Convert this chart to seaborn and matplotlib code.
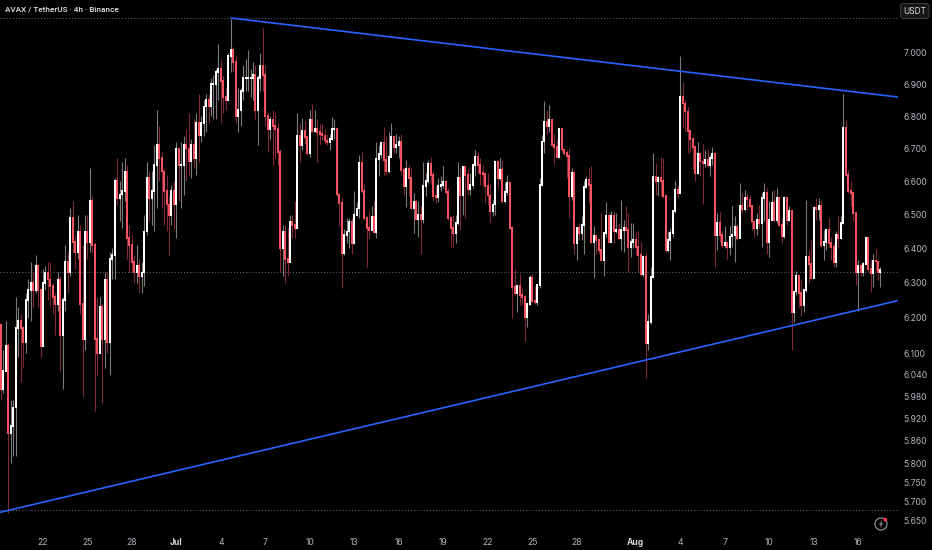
import numpy as np
import pandas as pd
import matplotlib
matplotlib.use("Agg")
import matplotlib.pyplot as plt
from matplotlib.patches import Circle, FancyBboxPatch, Polygon
from matplotlib.ticker import NullLocator
import seaborn as sns

first_open = 6.18
closes = [
6.00,6.05,6.12,5.88,5.90,5.95,6.17,6.19,6.17,6.13,
6.25,6.28,6.30,6.28,6.35,6.28,6.12,6.30,6.33,6.31,
6.29,6.26,6.24,6.31,6.15,6.25,6.36,6.33,6.49,6.42,
6.39,6.45,6.24,6.14,6.45,6.42,6.54,6.41,6.14,6.10,
6.23,6.14,6.31,6.13,6.37,6.38,6.60,6.55,6.56,6.57,
6.63,6.43,6.41,6.36,6.33,6.35,6.32,6.33,6.45,6.61,
6.55,6.57,6.65,6.71,6.67,6.63,6.57,6.53,6.50,6.57,
6.53,6.70,6.65,6.65,6.71,6.70,6.66,6.71,6.67,6.78,
6.74,6.78,6.83,6.85,6.83,6.90,6.90,6.94,6.95,6.91,
6.86,6.85,6.99,7.01,6.97,6.80,6.82,6.88,6.92,6.92,
6.92,6.92,6.93,6.82,6.92,6.96,6.93,6.80,6.76,6.79,
6.77,6.76,6.69,6.40,6.45,6.37,6.36,6.48,6.47,6.46,
6.74,6.71,6.755,6.735,6.685,6.79,6.755,6.76,6.75,6.745,
6.74,6.725,6.72,6.73,6.76,6.76,6.56,6.535,6.385,6.44,
6.45,6.48,6.415,6.50,6.518,6.657,6.57,6.49,6.46,6.455,
6.492,6.447,6.667,6.683,6.717,6.665,6.63,6.675,6.735,6.705,
6.71,6.72,6.635,6.587,6.637,6.61,6.52,6.537,6.487,6.50,
6.487,6.585,6.60,6.653,6.62,6.555,6.553,6.585,6.59,6.597,
6.567,6.49,6.46,6.445,6.475,6.61,6.557,6.643,6.62,6.575,
6.59,6.65,6.675,6.65,6.625,6.622,6.585,6.557,6.51,6.53,
6.66,6.61,6.635,6.54,6.567,6.595,6.46,6.287,6.27,6.29,
6.265,6.26,6.203,6.24,6.315,6.247,6.245,6.293,6.59,6.722,
6.783,6.77,6.79,6.71,6.705,6.675,6.76,6.697,6.687,6.677,
6.555,6.625,6.415,6.46,6.445,6.47,6.583,6.603,6.59,6.42,
6.437,6.425,6.395,6.367,6.445,6.497,6.42,6.495,6.45,6.455,
6.43,6.455,6.46,6.455,6.405,6.42,6.425,6.405,6.38,6.325,
6.375,6.128,6.188,6.317,6.613,6.60,6.61,6.60,6.555,6.395,
6.425,6.445,6.51,6.575,6.565,6.86,6.84,6.815,6.755,6.73,
6.705,6.625,6.683,6.66,6.655,6.665,6.65,6.67,6.685,6.44,
6.475,6.44,6.41,6.415,6.405,6.435,6.44,6.465,6.43,6.525,
6.515,6.55,6.545,6.525,6.48,6.46,6.485,6.475,6.55,6.565,
6.42,6.485,6.535,6.485,6.55,6.47,6.435,6.55,6.485,6.51,
6.216,6.275,6.32,6.27,6.235,6.28,6.375,6.355,6.315,6.52,
6.515,6.525,6.41,6.42,6.455,6.415,6.405,6.36,6.44,6.43,
6.475,6.765,6.62,6.57,6.565,6.505,6.33,6.35,6.33,6.355,
6.432,6.34,6.327,6.363,6.362,6.33,6.337,
]
highs = [
6.18,6.11,6.19,6.13,5.97,5.97,6.26,6.23,6.21,6.17,
6.27,6.31,6.36,6.33,6.38,6.35,6.28,6.34,6.35,6.36,
6.36,6.30,6.27,6.33,6.32,6.26,6.41,6.39,6.52,6.54,
6.44,6.50,6.47,6.41,6.50,6.50,6.64,6.56,6.42,6.26,
6.26,6.24,6.33,6.33,6.39,6.40,6.61,6.67,6.60,6.66,
6.67,6.65,6.47,6.44,6.38,6.41,6.37,6.36,6.50,6.66,
6.63,6.63,6.71,6.82,6.77,6.69,6.64,6.62,6.56,6.59,
6.60,6.72,6.70,6.72,6.74,6.76,6.81,6.73,6.79,6.81,
6.87,6.80,6.85,6.87,6.87,6.92,6.93,6.95,7.03,6.98,
6.93,6.89,7.00,7.11,7.02,6.99,6.89,6.89,6.96,6.98,
7.01,6.95,6.97,6.96,6.93,7.00,7.08,6.96,6.81,6.80,
6.82,6.81,6.78,6.70,6.47,6.47,6.46,6.50,6.50,6.54,
6.81,6.78,6.795,6.785,6.74,6.82,6.837,6.82,6.79,6.775,
6.775,6.76,6.745,6.745,6.797,6.79,6.767,6.565,6.55,6.457,
6.49,6.49,6.49,6.57,6.537,6.68,6.69,6.595,6.495,6.51,
6.525,6.545,6.72,6.71,6.72,6.765,6.74,6.75,6.78,6.74,
6.745,6.74,6.745,6.645,6.665,6.65,6.64,6.565,6.543,6.54,
6.525,6.66,6.625,6.665,6.675,6.63,6.585,6.61,6.617,6.647,
6.605,6.58,6.497,6.50,6.50,6.66,6.64,6.645,6.645,6.64,
6.625,6.655,6.695,6.69,6.67,6.65,6.625,6.625,6.595,6.543,
6.665,6.665,6.67,6.665,6.597,6.62,6.597,6.465,6.34,6.295,
6.325,6.285,6.265,6.24,6.323,6.325,6.29,6.295,6.61,6.743,
6.847,6.82,6.835,6.795,6.745,6.73,6.76,6.76,6.70,6.695,
6.705,6.64,6.63,6.46,6.475,6.495,6.60,6.615,6.64,6.647,
6.465,6.44,6.425,6.507,6.447,6.537,6.505,6.51,6.51,6.505,
6.475,6.545,6.485,6.525,6.505,6.475,6.475,6.45,6.45,6.42,
6.38,6.387,6.21,6.345,6.685,6.655,6.615,6.675,6.67,6.555,
6.45,6.46,6.515,6.60,6.59,6.99,6.907,6.85,6.83,6.76,
6.737,6.705,6.72,6.685,6.715,6.695,6.70,6.68,6.705,6.69,
6.505,6.507,6.45,6.465,6.42,6.465,6.525,6.495,6.47,6.595,
6.565,6.575,6.565,6.56,6.53,6.485,6.505,6.53,6.565,6.595,
6.58,6.54,6.57,6.575,6.58,6.55,6.49,6.555,6.55,6.525,
6.515,6.275,6.333,6.323,6.31,6.283,6.545,6.395,6.425,6.525,
6.55,6.55,6.545,6.455,6.457,6.49,6.435,6.42,6.45,6.495,
6.495,6.87,6.788,6.633,6.60,6.565,6.507,6.367,6.355,6.36,
6.435,6.432,6.365,6.385,6.40,6.365,6.345,
]
lows = [
5.97,5.99,6.05,5.67,5.80,5.82,5.82,6.09,6.02,6.06,
6.10,6.20,6.19,6.23,6.27,6.23,6.09,6.12,6.28,6.25,
6.23,6.21,6.15,6.22,6.05,6.00,6.22,6.27,6.32,6.39,
6.34,6.37,6.21,5.98,6.11,6.37,6.39,6.39,5.94,6.04,
6.10,5.96,6.06,6.10,6.04,6.31,6.31,6.53,6.48,6.46,
6.54,6.37,6.33,6.33,6.30,6.30,6.27,6.27,6.29,6.44,
6.48,6.47,6.45,6.52,6.60,6.52,6.47,6.45,6.38,6.47,
6.46,6.43,6.54,6.52,6.56,6.60,6.62,6.61,6.64,6.62,
6.66,6.72,6.74,6.75,6.78,6.80,6.79,6.79,6.85,6.78,
6.81,6.82,6.85,6.94,6.94,6.78,6.75,6.77,6.85,6.88,
6.88,6.86,6.85,6.79,6.71,6.88,6.88,6.77,6.69,6.73,
6.65,6.67,6.65,6.33,6.32,6.30,6.32,6.37,6.43,6.43,
6.46,6.66,6.695,6.715,6.68,6.675,6.75,6.75,6.66,6.715,
6.725,6.715,6.71,6.697,6.725,6.73,6.555,6.465,6.285,6.38,
6.415,6.40,6.385,6.413,6.495,6.49,6.565,6.485,6.345,6.43,
6.45,6.445,6.43,6.615,6.67,6.62,6.62,6.625,6.675,6.683,
6.685,6.67,6.62,6.555,6.523,6.555,6.52,6.445,6.485,6.435,
6.385,6.475,6.555,6.595,6.595,6.54,6.535,6.537,6.57,6.58,
6.563,6.485,6.405,6.40,6.417,6.47,6.455,6.50,6.49,6.56,
6.56,6.58,6.615,6.625,6.59,6.59,6.535,6.53,6.475,6.495,
6.50,6.58,6.605,6.535,6.535,6.56,6.457,6.20,6.265,6.215,
6.235,6.235,6.135,6.175,6.235,6.245,6.24,6.235,6.285,6.585,
6.687,6.745,6.75,6.707,6.653,6.675,6.67,6.693,6.68,6.61,
6.49,6.545,6.385,6.365,6.425,6.425,6.385,6.58,6.535,6.415,
6.315,6.385,6.385,6.365,6.32,6.435,6.42,6.42,6.415,6.445,
6.425,6.395,6.39,6.45,6.33,6.375,6.40,6.38,6.335,6.32,
6.32,6.03,6.11,6.183,6.315,6.56,6.555,6.555,6.55,6.39,
6.39,6.367,6.435,6.505,6.55,6.565,6.765,6.755,6.685,6.69,
6.637,6.60,6.623,6.615,6.533,6.643,6.643,6.615,6.65,6.347,
6.395,6.42,6.405,6.40,6.37,6.38,6.405,6.36,6.425,6.43,
6.505,6.51,6.515,6.523,6.455,6.433,6.44,6.46,6.405,6.48,
6.385,6.375,6.485,6.48,6.475,6.465,6.412,6.43,6.47,6.48,
6.11,6.188,6.265,6.23,6.205,6.215,6.275,6.30,6.31,6.313,
6.485,6.485,6.405,6.365,6.395,6.405,6.365,6.345,6.345,6.40,
6.427,6.473,6.617,6.565,6.525,6.48,6.295,6.219,6.32,6.32,
6.355,6.335,6.273,6.287,6.335,6.307,6.287,
]
assert len(closes) == len(highs) == len(lows), (len(closes), len(highs), len(lows))

y_ticks = [7.0,6.9,6.8,6.7,6.6,6.5,6.4,6.3,6.2,6.1,6.04,5.98,5.92,5.86,5.8,5.75,5.7,5.65]
y_tick_labels = ["7.000","6.900","6.800","6.700","6.600","6.500","6.400","6.300","6.200",
                 "6.100","6.040","5.980","5.920","5.860","5.800","5.750","5.700","5.650"]
x_tick_bars = [17,35,53,71,89,107,125,143,161,179,197,215,233,257,275,293,311,329,347]
x_tick_labels = ["22","25","28","Jul","4","7","10","13","16","19","22","25","28","Aug","4","7","10","13","16"]

upper_bars = [93.1, 363.1]
upper_prices = [7.113, 6.860]
lower_bars = [-0.4, 363.1]
lower_prices = [5.671, 6.249]
level_prices = [7.113, 6.33, 5.678]

opens = [first_open] + closes[:-1]
bars = np.arange(len(closes))
direction = ["up" if c >= o else "down" for o, c in zip(opens, closes)]

wicks = pd.DataFrame({
    "bar": np.r_[bars, bars],
    "price": highs + lows,
    "dir": direction + direction,
})
body_top = [max(o, c) * 1.0004 for o, c in zip(opens, closes)]
body_bot = [min(o, c) / 1.0004 for o, c in zip(opens, closes)]
bodies = pd.DataFrame({
    "bar": np.r_[bars, bars],
    "price": body_top + body_bot,
    "dir": direction + direction,
})

sns.set_theme(style="dark", rc={"axes.facecolor": "black", "figure.facecolor": "black"})
plt.rcParams["font.family"] = ["Inter", "DejaVu Sans"]

fig = plt.figure(figsize=(9.32, 5.5), dpi=100, facecolor="black")
ax = fig.add_axes([0, 23 / 550, 898 / 932, 527 / 550], facecolor="black")
ax.set_yscale("log")

for lv in level_prices:
    ax.axhline(lv, color="#6a6d78", lw=0.7, ls=(0, (1, 2.2)), zorder=1)

sns.lineplot(data=wicks, x="bar", y="price", units="bar", hue="dir", hue_order=["up", "down"],
             palette={"up": "#7c7c7c", "down": "#7e2a35"}, estimator=None, sort=False,
             legend=False, linewidth=0.8, solid_capstyle="butt", ax=ax, zorder=2)
sns.lineplot(data=bodies, x="bar", y="price", units="bar", hue="dir", hue_order=["up", "down"],
             palette={"up": "#ffffff", "down": "#f7525f"}, estimator=None, sort=False,
             legend=False, linewidth=1.45, solid_capstyle="butt", ax=ax, zorder=3)
sns.lineplot(x=upper_bars, y=upper_prices, color="#2962ff", linewidth=1.2, ax=ax, zorder=4,
             estimator=None, legend=False)
sns.lineplot(x=lower_bars, y=lower_prices, color="#2962ff", linewidth=1.2, ax=ax, zorder=4,
             estimator=None, legend=False)

ax.set_xlim(-0.4, 363.1)
ax.set_ylim(5.633, 7.172)
ax.set_xlabel("")
ax.set_ylabel("")
ax.grid(False)
for s in ax.spines.values():
    s.set_visible(False)

ax.yaxis.tick_right()
ax.yaxis.set_minor_locator(NullLocator())
ax.set_yticks(y_ticks)
ax.set_yticklabels(y_tick_labels)
ax.set_xticks(x_tick_bars)
ax.set_xticklabels(x_tick_labels)
ax.tick_params(axis="y", length=0, pad=3.8, labelsize=6.2, labelcolor="#b2b5be", right=False)
ax.tick_params(axis="x", length=0, pad=8, labelsize=6.2, labelcolor="#b2b5be", bottom=False)
for t in ax.get_xticklabels():
    if t.get_text() in ("Jul", "Aug"):
        t.set_color("#d1d4dc")
        t.set_fontweight("bold")

ov = fig.add_axes([0, 0, 1, 1], facecolor="none")
ov.set_xlim(0, 932)
ov.set_ylim(550, 0)
ov.axis("off")
ov.text(5, 10, "AVAX / TetherUS · 4h · Binance", color="#e6e8ee", fontsize=5.9,
        va="center", ha="left", family="Roboto", fontweight="medium")
ov.add_patch(FancyBboxPatch((900.5, 3.5), 28.5, 15, boxstyle="round,pad=0,rounding_size=3",
                            fc="#161616", ec="#3f4148", lw=0.7))
ov.text(914.8, 11, "USDT", color="#d9dbe2", fontsize=6.0, va="center", ha="center")
ov.add_patch(Circle((881, 524), 6, fc="none", ec="#8a8d96", lw=0.9))
ov.add_patch(Polygon([(882.2, 519.8), (878.8, 524.6), (880.9, 524.6),
                      (879.8, 528.2), (883.2, 523.4), (881.1, 523.4)],
                     closed=True, fc="#8a8d96", ec="none"))
ov.add_patch(Circle((885.3, 519.6), 1.9, fc="#f23645", ec="none"))

fig.savefig("out.png", dpi=100, facecolor="black")
